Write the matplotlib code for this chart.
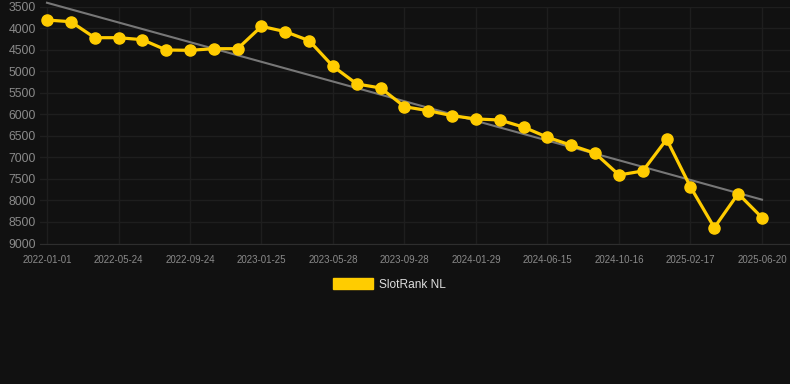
import numpy as np
import matplotlib.pyplot as plt
from matplotlib.patches import Patch

# rank values, one every ~41 days, first to last
ranks = [3814, 3853, 4224, 4224, 4270, 4509, 4517, 4479, 4479, 3960,
         4084, 4293, 4888, 5298, 5391, 5825, 5918, 6034, 6110, 6134,
         6300, 6535, 6721, 6906, 7410, 7317, 6582, 7688, 8632, 7843,
         8400]
# a label is shown on every third point
tick_labels = ["2022-01-01", "2022-05-24", "2022-09-24", "2023-01-25",
               "2023-05-28", "2023-09-28", "2024-01-29", "2024-06-15",
               "2024-10-16", "2025-02-17", "2025-06-20"]
y_ticks = [3500, 4000, 4500, 5000, 5500, 6000, 6500, 7000, 7500, 8000, 8500, 9000]

BG = "#111111"
YELLOW = "#FFCC00"

plt.rcParams['font.family'] = ['Liberation Sans', 'DejaVu Sans']

fig = plt.figure(figsize=(7.9, 3.84), dpi=100, facecolor=BG)
ax = fig.add_axes([40 / 790, 140.5 / 384, 750 / 790, 237 / 384], facecolor=BG)

x = np.arange(len(ranks))
slope, icept = np.polyfit(x, ranks, 1)
ax.plot(x[[0, -1]], icept + slope * x[[0, -1]], color="#777777", lw=1.5, clip_on=False, zorder=2)
ax.plot(x, ranks, color=YELLOW, lw=2.3, marker="o", ms=8, clip_on=False, zorder=3)

ax.set_ylim(9000, 3500)
ax.set_xlim(-7 / 23.83, 30 + 28 / 23.83)
ax.set_yticks(y_ticks)
ax.set_xticks(x[::3])
ax.set_xticklabels(tick_labels)

ax.grid(True, color="#1e1e1e", lw=1)
ax.set_axisbelow(True)
for s in ["top", "right", "left"]:
    ax.spines[s].set_visible(False)
ax.spines["bottom"].set_color("#2e2e2e")
ax.tick_params(axis="y", length=0, pad=3, labelsize=8.8, labelcolor="#8a8a8a")
ax.tick_params(axis="x", length=0, pad=8, labelsize=7, labelcolor="#8a8a8a")

fig.legend(handles=[Patch(color=YELLOW, label="SlotRank NL")], loc="center",
           bbox_to_anchor=(389.5 / 790, 1 - 284.5 / 384), frameon=False,
           fontsize=8.6, labelcolor="#dddddd", handlelength=3.4, handleheight=0.95,
           handletextpad=0.5)

fig.savefig("out.png", facecolor=BG)
